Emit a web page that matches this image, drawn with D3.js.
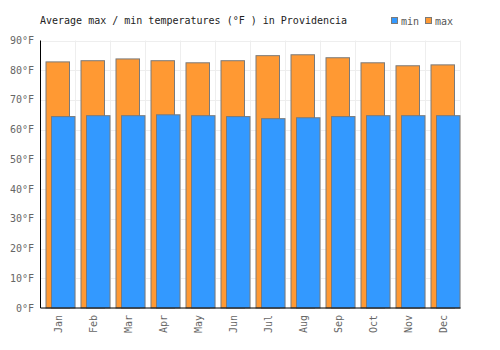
<!DOCTYPE html>
<html lang="en">
<head>
    <meta charset="UTF-8">
    <title>Average max / min temperatures in Providencia</title>
    <script src="https://d3js.org/d3.v7.min.js"></script>
    <style>
        body { margin: 0; background: #fff; }
        text { font-family: "DejaVu Sans Mono", monospace; font-size: 10px; }
        .grid line { stroke: #eeeeee; stroke-width: 1; }
        .axis text { fill: #666; }
        .bar { stroke: #7a7a7a; stroke-width: 1; }
    </style>
</head>
<body>
    <svg width="500" height="350"></svg>

    <script>
      // data
      const months = ["Jan", "Feb", "Mar", "Apr", "May", "Jun", "Jul", "Aug", "Sep", "Oct", "Nov", "Dec"];
      const maxTemp = [82.8, 83.2, 83.8, 83.2, 82.5, 83.2, 84.9, 85.2, 84.2, 82.5, 81.5, 81.8];
      const minTemp = [64.4, 64.7, 64.7, 65.0, 64.7, 64.4, 63.7, 64.0, 64.4, 64.7, 64.7, 64.7];
      const yTicks = [0, 10, 20, 30, 40, 50, 60, 70, 80, 90];

      const svg = d3.select("svg");
      const margin = { top: 40.5, right: 39.5, bottom: 42, left: 40.5 };
      const width = 500, height = 350;

      const x = d3.scaleBand().domain(months).range([margin.left, width - margin.right]);
      const y = d3.scaleLinear().domain([0, 90]).range([height - margin.bottom, margin.top]);

      // grid
      const grid = svg.append("g").attr("class", "grid");
      grid.selectAll(".h").data(yTicks).enter().append("line")
          .attr("x1", margin.left).attr("x2", width - margin.right)
          .attr("y1", d => Math.round(y(d)) + 0.5).attr("y2", d => Math.round(y(d)) + 0.5);
      grid.selectAll(".v").data(months.slice(1).concat(["end"])).enter().append("line")
          .attr("x1", (d, i) => margin.left + x.step() * (i + 1))
          .attr("x2", (d, i) => margin.left + x.step() * (i + 1))
          .attr("y1", margin.top).attr("y2", height - margin.bottom);

      // max bars (behind), min bars (front)
      const bw = 23.5;
      svg.selectAll(".maxbar").data(maxTemp).enter().append("rect")
          .attr("class", "bar")
          .attr("fill", "#ff9933")
          .attr("x", (d, i) => x(months[i]) + 5.5)
          .attr("width", bw)
          .attr("y", d => y(d))
          .attr("height", d => y(0) - y(d));

      svg.selectAll(".minbar").data(minTemp).enter().append("rect")
          .attr("class", "bar")
          .attr("fill", "#3399ff")
          .attr("x", (d, i) => x(months[i]) + 11)
          .attr("width", bw)
          .attr("y", d => y(d))
          .attr("height", d => y(0) - y(d));

      // axes lines
      svg.append("line")
          .attr("x1", margin.left).attr("x2", margin.left)
          .attr("y1", margin.top).attr("y2", y(0))
          .attr("stroke", "#000").attr("stroke-width", 1);
      svg.append("line")
          .attr("x1", margin.left).attr("x2", width - margin.right)
          .attr("y1", y(0)).attr("y2", y(0))
          .attr("stroke", "#000").attr("stroke-width", 1);

      // y labels
      const yAxis = svg.append("g").attr("class", "axis");
      yAxis.selectAll("text").data(yTicks).enter().append("text")
          .attr("x", 34)
          .attr("y", d => y(d))
          .attr("dy", "0.35em")
          .attr("text-anchor", "end")
          .text(d => d + "°F");

      // x labels rotated
      const xAxis = svg.append("g").attr("class", "axis");
      xAxis.selectAll("text").data(months).enter().append("text")
          .attr("transform", d => `translate(${x(d) + x.bandwidth() / 2 + 3.5},${y(0) + 7}) rotate(-90)`)
          .attr("text-anchor", "end")
          .text(d => d);

      // title
      svg.append("text")
          .attr("x", 40).attr("y", 24)
          .attr("fill", "#222")
          .text("Average max / min temperatures (°F ) in Providencia");

      // legend
      const legend = [{ name: "min", color: "#3399ff" }, { name: "max", color: "#ff9933" }];
      const lg = svg.selectAll(".legend").data(legend).enter().append("g")
          .attr("transform", (d, i) => `translate(${391.5 + i * 34},17.5)`);
      lg.append("rect").attr("width", 6).attr("height", 6)
          .attr("fill", d => d.color).attr("stroke", "#7a7a7a");
      lg.append("text").attr("x", 9.5).attr("y", 7).attr("fill", "#555").text(d => d.name);
    </script>
</body>
</html>
